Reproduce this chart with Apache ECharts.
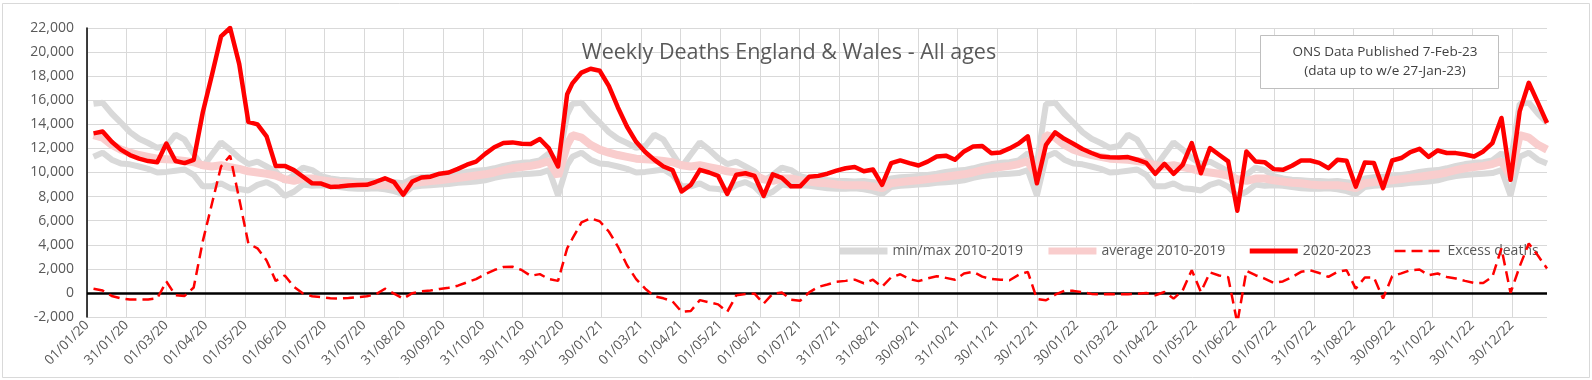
<!DOCTYPE html>
<html><head><meta charset="utf-8">
<script src="https://cdn.jsdelivr.net/npm/echarts@6/dist/echarts.min.js"></script>
<style>html,body{margin:0;padding:0;background:#fff}#c{width:1592px;height:380px}</style>
</head><body><div id="c"></div>
<script>
// 2010-2019 weekly statistics by week of year (53 weeks)
const weekMax = [15700,15800,14900,14150,13350,12800,12450,12050,12200,13140,12720,11550,10450,11500,12500,11900,11200,10700,10900,10500,10100,9300,9800,10400,10200,9700,9500,9400,9350,9300,9300,9250,9300,9200,9100,9500,9600,9650,9700,9800,9900,10050,10150,10200,10350,10550,10700,10800,10850,11000,11600,10800,14800];
const weekMin = [11300,11650,11060,10750,10680,10500,10300,10000,10050,10150,10250,9800,8850,8850,9100,8700,8630,8500,8970,9200,8830,8050,8400,9000,8900,8950,8900,8800,8700,8650,8650,8700,8600,8450,8200,8800,8900,8950,9000,9050,9150,9200,9250,9350,9550,9700,9800,9850,9900,9950,10200,8100,10600];
const weekAvg = [13100,12900,12300,11900,11650,11450,11300,11150,11100,11050,10950,10850,10600,10500,10600,10450,10300,10100,10000,9900,9750,9450,9300,9500,9500,9350,9250,9150,9100,9000,8950,8950,8950,8850,8700,9100,9200,9300,9350,9450,9550,9650,9750,9850,10000,10200,10350,10450,10550,10700,10950,9700,12300];

// 2020-2023 weekly deaths
const deaths = [
13250,13400,12550,11900,11450,11150,10950,10850,12400,10950,10780,11050,15000,18100,21300,22000,19000,14200,14000,13000,10550,10550,10200,9650,9100,9080,8800,8830,8920,8970,8980,9230,9520,9200,8150,9250,9580,9650,9900,10000,10300,10650,10900,11550,12100,12450,12500,12380,12360,12780,12000,10500,16500,
17400,18300,18620,18450,17200,15400,13800,12550,11700,11050,10500,10200,8420,8970,10220,10000,9720,8220,9810,9940,9720,8060,9850,9550,8850,8850,9650,9720,9900,10150,10350,10450,10100,10250,8970,10780,11000,10780,10580,10900,11330,11400,11060,11750,12150,12200,11600,11670,12000,12400,13000,9110,
12300,13330,12800,12390,11950,11620,11330,11260,11250,11280,11060,10800,9890,10720,9890,10640,12440,9940,12030,11470,10920,6830,11750,10920,10860,10280,10220,10560,11000,11000,10800,10360,11060,10970,8830,10830,10780,8700,11000,11200,11700,11970,11300,11830,11620,11610,11500,11330,11750,12440,14530,9390,
15080,17450,15800,14110];

// Excess deaths
const excess = [
350,200,-250,-450,-550,-550,-550,-450,950,-200,-250,450,4300,7400,10500,11400,7800,4100,3700,2700,1000,1450,500,-50,-280,-350,-450,-470,-420,-350,-280,-110,350,-60,-470,-20,130,200,330,430,600,880,1150,1550,1900,2150,2170,1900,1420,1560,1150,1000,3700,
4500,5850,6200,5950,5100,3850,2300,1150,350,-280,-450,-700,-1580,-1500,-600,-780,-950,-1580,-200,-100,-60,-890,-60,30,-560,-650,50,500,700,920,1000,1100,800,1100,500,1300,1550,1150,980,1200,1390,1250,1100,1610,1750,1350,1150,1100,1050,1500,1750,-500,
-610,-150,170,170,50,-80,-110,-100,-110,-110,-80,0,-190,80,-470,200,1890,80,1700,1450,1300,-2500,1830,1470,1190,830,950,1300,1750,1880,1650,1330,1750,1880,360,1280,1280,-470,1390,1620,1890,1940,1470,1610,1330,1200,1000,830,830,1330,3690,0,
2200,4110,3100,2030];

const yTicks = {min: -2000, max: 22000, step: 2000};
const axisStart = '2020-01-01';
const axisEnd = '2023-01-27';
const tickStepDays = 30.4166;
const start2020 = '2020-01-06', weeks2020 = 53;
const start2021 = '2021-01-08', weeksLater = 108;

const DAY = 86400000;
const t0 = Date.parse(axisStart);
const dayOf = s => Math.round((Date.parse(s) - t0) / DAY);
const days = [];
for (let k = 0; k < weeks2020; k++) days.push(dayOf(start2020) + 7 * k);
for (let k = 0; k < weeksLater; k++) days.push(dayOf(start2021) + 7 * k);
const wk = i => i < weeks2020 ? i : (i - weeks2020) % 52;

const mk = f => days.map((d, i) => [d, f(i)]);
const minData = mk(i => weekMin[wk(i)]);
const maxData = mk(i => weekMax[wk(i)]);
const avgData = mk(i => weekAvg[wk(i)]);
const deathData = mk(i => deaths[i]);
const excessData = mk(i => excess[i]);

const pad = n => (n < 10 ? '0' : '') + n;
const fmtDate = v => {
  const d = new Date(t0 + Math.floor(v + 1e-7) * DAY);
  return pad(d.getUTCDate()) + '/' + pad(d.getUTCMonth() + 1) + '/' + String(d.getUTCFullYear()).slice(2);
};

const FONT = '"Open Sans", sans-serif';
const GREY = '#d9d9d9', PINK = '#f9cdcd', RED = '#ff0000', TXT = '#595959';

const chart = echarts.init(document.getElementById('c'), null, {renderer: 'canvas'});
chart.setOption({
  animation: false,
  backgroundColor: '#fff',
  grid: {left: 87, right: 45, top: 28, bottom: 63},
  legend: {
    left: 831, top: 239, itemWidth: 48, itemHeight: 8, itemGap: 22,
    itemStyle: {opacity: 0},
    textStyle: {color: TXT, fontSize: 14, fontFamily: FONT},
    data: [
      {name: 'min/max 2010-2019', lineStyle: {width: 7}},
      {name: 'average 2010-2019', lineStyle: {width: 7}},
      {name: '2020-2023', lineStyle: {width: 5}},
      {name: 'Excess deaths', lineStyle: {width: 2.5}}
    ]
  },
  xAxis: {
    type: 'value', min: 0, max: dayOf(axisEnd), interval: tickStepDays,
    axisLine: {show: false}, axisTick: {show: false},
    splitLine: {show: true, showMaxLine: false, lineStyle: {color: GREY, width: 1}},
    axisLabel: {rotate: 45, margin: 6, color: TXT, fontSize: 13.5, fontFamily: FONT,
      showMaxLabel: false, formatter: fmtDate}
  },
  yAxis: {
    type: 'value', min: yTicks.min, max: yTicks.max, interval: yTicks.step,
    axisLine: {show: true, lineStyle: {color: '#000', width: 1.5}},
    axisTick: {show: false},
    splitLine: {lineStyle: {color: GREY, width: 1}},
    axisLabel: {color: TXT, fontSize: 14, fontFamily: FONT, margin: 13,
      formatter: v => v.toLocaleString('en-US')}
  },
  series: [
    {name: 'min/max 2010-2019', type: 'line', data: minData, symbol: 'none', color: GREY,
      lineStyle: {color: GREY, width: 6}, z: 2},
    {name: 'min/max 2010-2019', type: 'line', data: maxData, symbol: 'none', color: GREY,
      lineStyle: {color: GREY, width: 6}, z: 2},
    {name: 'average 2010-2019', type: 'line', data: avgData, symbol: 'none', color: PINK,
      lineStyle: {color: PINK, width: 8}, z: 3},
    {name: '2020-2023', type: 'line', data: deathData, symbol: 'none', color: RED,
      lineStyle: {color: RED, width: 4.5, join: 'round'}, z: 4},
    {name: 'Excess deaths', type: 'line', data: excessData, symbol: 'none', color: RED,
      lineStyle: {color: RED, width: 2.5, type: [11, 6]}, z: 5,
      markLine: {silent: true, symbol: 'none', label: {show: false},
        lineStyle: {color: '#000', width: 2.5, type: 'solid'}, data: [{yAxis: 0}]}}
  ],
  graphic: [
    {type: 'rect', silent: true, z: -10, shape: {x: 2.5, y: 3.5, width: 1587, height: 374},
      style: {fill: 'none', stroke: GREY, lineWidth: 1}},
    {type: 'text', silent: true, z: 10, x: 789, y: 53,
      style: {text: 'Weekly Deaths England & Wales - All ages', fill: TXT, fontSize: 21.5, fontFamily: FONT,
        align: 'center', verticalAlign: 'middle'}},
    {type: 'rect', silent: true, z: 10, shape: {x: 1260.5, y: 35.5, width: 238, height: 53},
      style: {fill: '#fff', stroke: '#bfbfbf', lineWidth: 1}},
    {type: 'text', silent: true, z: 11, x: 1385, y: 52,
      style: {text: 'ONS Data Published 7-Feb-23', fill: '#404040', fontSize: 13.5, fontFamily: FONT,
        align: 'center', verticalAlign: 'middle'}},
    {type: 'text', silent: true, z: 11, x: 1385, y: 71,
      style: {text: '(data up to w/e 27-Jan-23)', fill: '#404040', fontSize: 13.5, fontFamily: FONT,
        align: 'center', verticalAlign: 'middle'}}
  ]
});
</script></body></html>
